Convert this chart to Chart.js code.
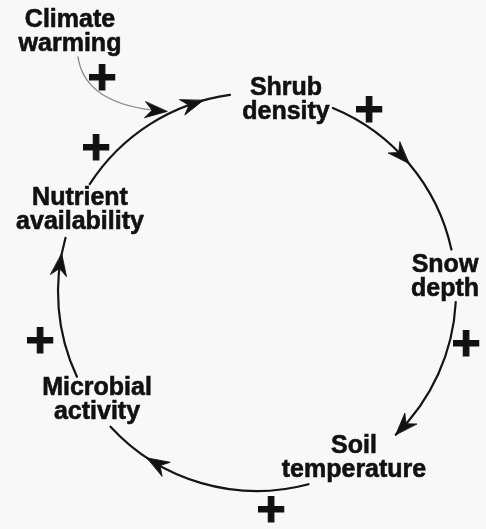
<!DOCTYPE html>
<html><head><meta charset="utf-8">
<script src="https://cdn.jsdelivr.net/npm/chart.js@4/dist/chart.umd.min.js"></script>
<style>html,body{margin:0;padding:0;background:#f8f8f8;}#wrap{width:486px;height:529px;}</style>
</head><body><div id="wrap"><canvas id="c" width="486" height="529"></canvas></div>
<script>
// ---- content of the diagram ----
const nodeNames = ['Shrub\ndensity', 'Snow\ndepth', 'Soil\ntemperature', 'Microbial\nactivity', 'Nutrient\navailability'];
const driverName = 'Climate\nwarming';
const linkFrom = [0, 1, 2, 3, 4];
const linkTo = [1, 2, 3, 4, 0];
const linkSign = ['+', '+', '+', '+', '+'];
const driverSign = '+';

// ---- layout (diagram units) ----
const labelX = [286, 445, 354, 97, 80];
const labelY = [95, 272, 453, 395, 205];
const driverXY = [70, 27];
const loopCenter = [257, 292];
const loopRadius = 199;
const arcStart = [292.4, 2.9, 75, 154.8, 212.8];
const arcEnd = [347.7, 45.8, 137.4, 195.8, 262.2];
const arrowAt = [319.8, 45.8, 123.5, 191.1, 254.3];
const signX = [369, 466, 271, 40, 96];
const signY = [112, 346, 512, 343, 150];
const driverSignXY = [102, 80];
const driverCurve = [[78, 57], [85, 105], [162, 111]];

const diagramPlugin = {
  id: 'diagram',
  beforeDraw(chart) {
    const ctx = chart.ctx;
    ctx.save();
    ctx.fillStyle = '#f8f8f8';
    ctx.fillRect(0, 0, chart.width, chart.height);
    ctx.restore();
  },
  afterDatasetsDraw(chart) {
    const ctx = chart.ctx, sx = chart.scales.x, sy = chart.scales.y;
    const X = v => sx.getPixelForValue(v), Y = v => sy.getPixelForValue(v);
    const cx = X(loopCenter[0]), cy = Y(loopCenter[1]);
    const r = X(loopCenter[0] + loopRadius) - cx;
    const rad = d => d * Math.PI / 180;
    function arrow(x, y, ang, L, W) {
      ctx.save();
      ctx.translate(x, y); ctx.rotate(ang);
      ctx.beginPath();
      ctx.moveTo(0, 0);
      ctx.lineTo(-L, W / 2);
      ctx.lineTo(-L * 0.68, 0);
      ctx.lineTo(-L, -W / 2);
      ctx.closePath();
      ctx.fillStyle = '#111';
      ctx.fill();
      ctx.strokeStyle = '#111';
      ctx.lineWidth = 0.8;
      ctx.lineJoin = 'miter';
      ctx.stroke();
      ctx.restore();
    }
    ctx.save();
    // loop arcs
    ctx.strokeStyle = '#151515';
    ctx.lineWidth = 2.2;
    ctx.lineCap = 'round';
    for (let i = 0; i < linkFrom.length; i++) {
      ctx.beginPath();
      ctx.arc(cx, cy, r, rad(arcStart[i]), rad(arcEnd[i]));
      ctx.stroke();
      const a = rad(arrowAt[i]);
      arrow(cx + r * Math.cos(a), cy + r * Math.sin(a), a + Math.PI / 2 - 0.05, 22, 16);
    }
    // driver curve
    const p = driverCurve.map(q => [X(q[0]), Y(q[1])]);
    ctx.strokeStyle = '#8a8a8a';
    ctx.lineWidth = 1.4;
    ctx.beginPath();
    ctx.moveTo(p[0][0], p[0][1]);
    ctx.quadraticCurveTo(p[1][0], p[1][1], p[2][0], p[2][1]);
    ctx.stroke();
    arrow(p[2][0] + 5, p[2][1] + 0.5, Math.atan2(p[2][1] - p[1][1], p[2][0] - p[1][0]), 22, 16);

    // labels
    ctx.fillStyle = '#111';
    ctx.strokeStyle = '#111';
    ctx.textAlign = 'center';
    ctx.textBaseline = 'alphabetic';
    ctx.font = 'bold 25px "Liberation Sans", Arial, sans-serif';
    ctx.lineWidth = 0.6;
    const drawLabel = (txt, x, y) => {
      txt.split('\n').forEach((ln, k) => {
        ctx.fillText(ln, X(x), Y(y) + k * 24);
        ctx.strokeText(ln, X(x), Y(y) + k * 24);
      });
    };
    nodeNames.forEach((n, i) => drawLabel(n, labelX[i], labelY[i]));
    drawLabel(driverName, driverXY[0], driverXY[1]);
    // signs
    ctx.font = 'bold 50px "Liberation Sans", Arial, sans-serif';
    ctx.textBaseline = 'middle';
    ctx.lineWidth = 1.2;
    const drawSign = (s, x, y) => { ctx.fillText(s, X(x), Y(y)); ctx.strokeText(s, X(x), Y(y)); };
    linkSign.forEach((s, i) => drawSign(s, signX[i], signY[i]));
    drawSign(driverSign, driverSignXY[0], driverSignXY[1]);
    ctx.restore();
  }
};

new Chart(document.getElementById('c'), {
  type: 'scatter',
  data: {
    datasets: [{
      data: labelX.map((x, i) => ({ x: x, y: labelY[i] })),
      pointRadius: 0
    }]
  },
  options: {
    responsive: false,
    animation: false,
    layout: { padding: 0 },
    plugins: { legend: { display: false }, tooltip: { enabled: false } },
    scales: {
      x: { type: 'linear', min: 0, max: 486, display: false },
      y: { type: 'linear', min: 0, max: 529, reverse: true, display: false }
    }
  },
  plugins: [diagramPlugin]
});
</script></body></html>
